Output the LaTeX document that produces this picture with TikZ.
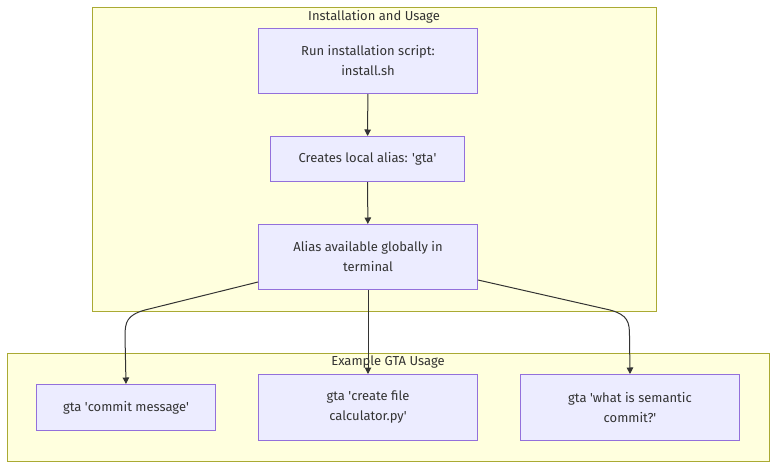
\documentclass[tikz,border=0pt]{standalone}
\usepackage{fontspec}
\setmainfont{Fira Sans}
\usetikzlibrary{arrows.meta}
\definecolor{clfill}{HTML}{FFFFDE}
\definecolor{clborder}{HTML}{AAAA33}
\definecolor{ndfill}{HTML}{ECECFF}
\definecolor{ndborder}{HTML}{9370DB}
\definecolor{edgecol}{HTML}{333333}
\newcommand{\sq}{\textquotesingle}
\tikzset{
  cluster/.style={draw=clborder, fill=clfill, line width=1pt, inner sep=0pt, anchor=north west},
  clustertitle/.style={text=edgecol, font=\fontsize{13}{16}\selectfont, inner sep=0pt},
  box/.style={draw=ndborder, fill=ndfill, line width=1pt, inner sep=0pt, align=center,
    text=edgecol, font=\fontsize{13}{20}\selectfont, anchor=north west},
  flow/.style={draw=edgecol, line width=1pt, -{Triangle[length=6.5pt,width=6.5pt]}}
}
\begin{document}
\begin{tikzpicture}[x=1pt,y=-1pt]
\useasboundingbox (0,0) rectangle (784,474);
% clusters
\node[cluster, minimum width=564pt, minimum height=304pt] (top) at (92,7) {};
\node[clustertitle] (toptitle) at (374,17) {Installation and Usage};
\node[cluster, minimum width=762pt, minimum height=108pt] (bot) at (7,353) {};
\node[clustertitle] (bottitle) at (388,362) {Example GTA Usage};
% nodes
\node[box, minimum width=219pt, minimum height=65pt] (A) at (258,28) {Run installation script:\\install.sh};
\node[box, minimum width=194pt, minimum height=45pt] (B) at (270,136) {Creates local alias: \sq gta\sq};
\node[box, minimum width=219pt, minimum height=65pt] (C) at (258,224) {Alias available globally in\\terminal};
\node[box, minimum width=179pt, minimum height=46pt] (D) at (36,384) {gta \sq commit message\sq};
\node[box, minimum width=219pt, minimum height=66pt] (E) at (258,374) {gta \sq create file\\calculator.py\sq};
\node[box, minimum width=219pt, minimum height=66pt] (F) at (520,374) {gta \sq what is semantic\\commit?\sq};
% edges
\draw[flow] (A) -- (B);
\draw[flow] (B) -- (C);
\draw[flow] (C) -- (E);
\draw[flow] ([yshift=8pt]C.south west) -- (145,310) .. controls (127,315) and (125,322) .. (125,336) -- (D.north);
\draw[flow] ([yshift=10pt]C.south east) -- (610,310) .. controls (628,315) and (629.5,322) .. (629.5,336) -- (F.north);
\end{tikzpicture}
\end{document}
